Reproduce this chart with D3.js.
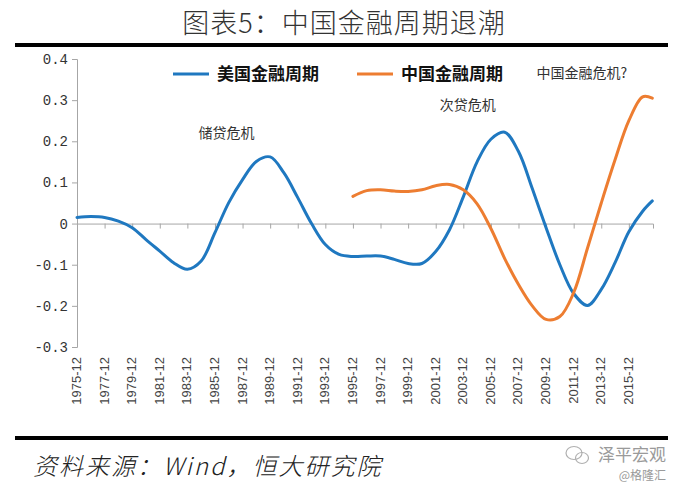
<!DOCTYPE html>
<html>
<head>
<meta charset="utf-8">
<script src="https://cdn.jsdelivr.net/npm/d3@7"></script>
<style>
  html, body { margin: 0; padding: 0; background: #fff; }
  svg { display: block; }
</style>
</head>
<body>
<svg id="chart" width="677" height="488"></svg>
<script>
// ---- data (year t = position of the "t-12" label) ----
const tickYears = [1975,1977,1979,1981,1983,1985,1987,1989,1991,1993,1995,1997,1999,2001,2003,2005,2007,2009,2011,2013,2015];
const tickLabels = tickYears.map(y => y + "-12");
const yTicks = [-0.3,-0.2,-0.1,0,0.1,0.2,0.3,0.4];
const yTickLabels = ["-0.3","-0.2","-0.1","0","0.1","0.2","0.3","0.4"];

const usYears = [1975,1976,1977,1978,1979,1980,1981,1982,1983,1984,1985,1986,1987,1988,1989,1990,1991,1992,1993,1994,1995,1996,1997,1998,1999,2000,2001,2002,2003,2004,2005,2006,2007,2008,2009,2010,2011,2012,2013,2014,2015,2016,2016.7];
const usValues = [0.015,0.017,0.015,0.006,-0.01,-0.039,-0.067,-0.095,-0.111,-0.091,-0.022,0.051,0.107,0.151,0.162,0.123,0.063,0.0,-0.051,-0.075,-0.08,-0.079,-0.079,-0.087,-0.097,-0.097,-0.068,-0.015,0.065,0.15,0.205,0.222,0.175,0.085,-0.01,-0.1,-0.17,-0.199,-0.16,-0.095,-0.02,0.03,0.055];

const cnYears = [1995,1996,1997,1998,1999,2000,2001,2002,2003,2004,2005,2006,2007,2008,2009,2010,2011,2012,2013,2014,2015,2016,2016.7];
const cnValues = [0.066,0.08,0.082,0.079,0.078,0.082,0.092,0.095,0.082,0.048,-0.012,-0.085,-0.148,-0.2,-0.233,-0.226,-0.168,-0.06,0.05,0.155,0.25,0.308,0.305];

const seriesNames = ["美国金融周期","中国金融周期"];
const seriesColors = ["#1f78c0","#ed7d31"];
const annotations = [
  {text:"储贷危机", year:1983.8, value:0.207},
  {text:"次贷危机", year:2001.3, value:0.277},
  {text:"中国金融危机?", year:2008.3, value:0.354}
];

// ---- layout ----
const svg = d3.select("#chart");
const x = d3.scaleLinear().domain([1975, 2016.75]).range([77, 653]);
const y = d3.scaleLinear().domain([-0.3, 0.4]).range([347, 59]);

// title
svg.append("text").attr("x", 344).attr("y", 33).attr("text-anchor","middle")
  .attr("font-family","'Noto Sans CJK SC', sans-serif").attr("font-size", 27)
  .attr("font-weight", 300).attr("fill","#333").attr("letter-spacing",1).text("图表5：中国金融周期退潮");
svg.append("rect").attr("x",15).attr("y",43).attr("width",653).attr("height",4).attr("fill","#000");
svg.append("rect").attr("x",15).attr("y",436).attr("width",653).attr("height",4).attr("fill","#000");

// y axis
const yAxis = d3.axisLeft(y).tickValues(yTicks).tickSize(5).tickFormat((d,i)=>yTickLabels[i]);
const gy = svg.append("g").attr("transform","translate(77,0)").call(yAxis);
gy.select(".domain").attr("stroke","#a6a6a6");
gy.selectAll(".tick line").attr("stroke","#a6a6a6");
gy.selectAll(".tick text").attr("font-family","'Liberation Mono', monospace").attr("font-size",14)
  .attr("fill","#333").attr("x",-9);

// x axis at zero
const xAxis = d3.axisBottom(x).tickValues(tickYears).tickSize(5).tickFormat("");
const gx = svg.append("g").attr("transform",`translate(0,${y(0)})`).call(xAxis);
gx.select(".domain").attr("stroke","#a6a6a6");
gx.selectAll(".tick line").attr("stroke","#a6a6a6");

// x labels low, rotated
svg.append("g").selectAll("text").data(tickYears).join("text")
  .attr("transform", d => `translate(${x(d)+4},357) rotate(-90)`)
  .attr("text-anchor","end")
  .attr("font-family","'Liberation Sans', Arial, sans-serif").attr("font-size",13)
  .attr("fill","#444")
  .text((d,i)=>tickLabels[i]);

// lines
const line = d3.line().x(d=>x(d[0])).y(d=>y(d[1])).curve(d3.curveCatmullRom.alpha(0.5));
const usData = usYears.map((t,i)=>[t, usValues[i]]);
const cnData = cnYears.map((t,i)=>[t, cnValues[i]]);
svg.append("path").datum(usData).attr("d", line).attr("fill","none")
  .attr("stroke", seriesColors[0]).attr("stroke-width",3).attr("stroke-linecap","round");
svg.append("path").datum(cnData).attr("d", line).attr("fill","none")
  .attr("stroke", seriesColors[1]).attr("stroke-width",3).attr("stroke-linecap","round");

// legend
const legendX = [173, 357];
seriesNames.forEach((name,i)=>{
  svg.append("line").attr("x1",legendX[i]).attr("x2",legendX[i]+36).attr("y1",74).attr("y2",74)
    .attr("stroke",seriesColors[i]).attr("stroke-width",3);
  svg.append("text").attr("x",legendX[i]+44).attr("y",80)
    .attr("font-family","'Noto Sans CJK SC', sans-serif").attr("font-size",17).attr("font-weight",700)
    .attr("fill","#111").text(name);
});

// annotations
svg.append("g").selectAll("text").data(annotations).join("text")
  .attr("x", d=>x(d.year)).attr("y", d=>y(d.value))
  .attr("font-family","'Noto Sans CJK SC', sans-serif").attr("font-size",14)
  .attr("fill","#333").text(d=>d.text);

// source
svg.append("text").attr("x",33).attr("y",475)
  .attr("font-family","'Noto Sans CJK SC', sans-serif").attr("font-size",24).attr("font-style","italic")
  .attr("font-weight",300).attr("letter-spacing",2).attr("fill","#222").text("资料来源：Wind，恒大研究院");

// watermark
const wm = svg.append("g").attr("fill","none").attr("stroke","#b0b0b0").attr("stroke-width",1.2);
wm.append("ellipse").attr("cx",574).attr("cy",453).attr("rx",8).attr("ry",6.5);
wm.append("ellipse").attr("cx",582).attr("cy",458).attr("rx",6.5).attr("ry",5.5);
svg.append("text").attr("x",666).attr("y",461).attr("text-anchor","end")
  .attr("font-family","'Noto Sans CJK SC', sans-serif").attr("font-size",17)
  .attr("fill","#9a9a9a").text("泽平宏观");
svg.append("text").attr("x",666).attr("y",480).attr("text-anchor","end")
  .attr("font-family","'Noto Sans CJK SC', sans-serif").attr("font-size",12)
  .attr("fill","#9a9a9a").text("@格隆汇");
</script>
</body>
</html>
